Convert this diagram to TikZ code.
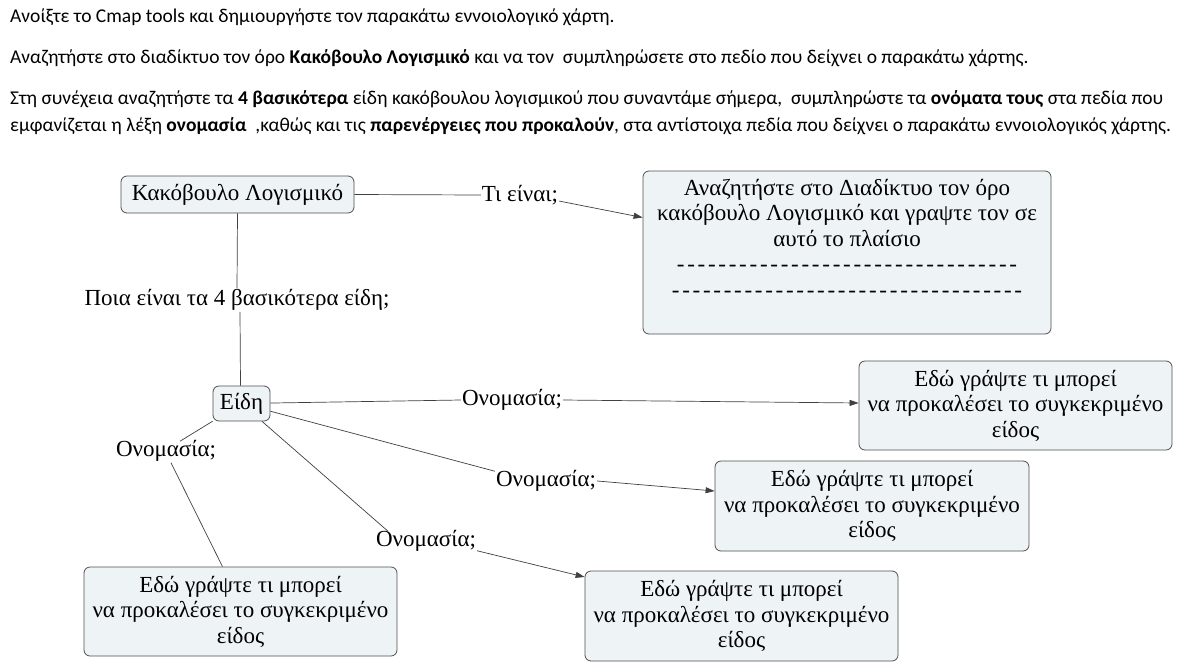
\documentclass[tikz,border=0pt]{standalone}
\usepackage{fontspec}
\setmainfont{Carlito}
\newfontfamily\mapfont{Liberation Serif}
\usetikzlibrary{arrows.meta,calc}
\definecolor{boxfill}{HTML}{EEF3F6}
\definecolor{boxline}{HTML}{505050}
\definecolor{linkc}{HTML}{404040}
\newcommand\dashline[1]{\makebox[#1pt]{\xleaders\hbox to 10.3pt{\hss-\hss}\hfill}}
\begin{document}
\begin{tikzpicture}[x=1pt,y=-1pt,
  hdr/.style={anchor=base west,inner sep=0pt,font=\fontsize{19.5}{23}\selectfont},
  mapf/.style={font=\mapfont\fontsize{23}{25.5}\selectfont},
  cbox/.style={draw=boxline,fill=boxfill,rounded corners=6pt,line width=0.8pt,
    align=center,inner sep=1pt,mapf},
  lbl/.style={inner sep=1pt,mapf},
  link/.style={draw=linkc,line width=0.7pt},
  arr/.style={link,-{Triangle[length=9pt,width=6pt]}}]
\useasboundingbox (0,0) rectangle (1189,667);
\fill[white] (0,0) rectangle (1189,667);
% header text
\node[hdr] (h1) at (10,22) {Ανοίξτε το Cmap tools και δημιουργήστε τον παρακάτω εννοιολογικό χάρτη.};
\node[hdr] (h2) at (10,63) {Αναζητήστε στο διαδίκτυο τον όρο \textbf{Κακόβουλο Λογισμικό} και να τον\ \ συμπληρώσετε στο πεδίο που δείχνει ο παρακάτω χάρτης.};
\node[hdr] (h3) at (10,104) {Στη συνέχεια αναζητήστε τα \textbf{4 βασικότερα} είδη κακόβουλου λογισμικού που συναντάμε σήμερα,\ \ συμπληρώστε τα \textbf{ονόματα τους} στα πεδία που};
\node[hdr] (h4) at (10,131) {εμφανίζεται η λέξη \textbf{ονομασία}\ \ ,καθώς και τις \textbf{παρενέργειες που προκαλούν}, στα αντίστοιχα πεδία που δείχνει ο παρακάτω εννοιολογικός χάρτης.};
% concepts
\node[cbox,minimum width=233pt,minimum height=37pt] (kak) at (237.5,194.5) {Κακόβουλο Λογισμικό};
\node[cbox,minimum width=408pt,minimum height=163pt] (big) at (847,252.5) {};
\node[anchor=north,align=center,inner sep=0pt,mapf] (bigtxt) at ([yshift=-8pt]big.north) {Αναζητήστε στο Διαδίκτυο τον όρο\\ κακόβουλο Λογισμικό και γραψτε τον σε\\ αυτό το πλαίσιο\\ \dashline{343}\\ \dashline{353}};
\node[cbox,minimum width=57pt,minimum height=35pt] (eidi) at (241.5,403.5) {Είδη};
\node[cbox,minimum width=313pt,minimum height=89pt] (b1) at (1015.5,405.5) {Εδώ γράψτε τι μπορεί\\ να προκαλέσει το συγκεκριμένο\\ είδος};
\node[cbox,minimum width=314pt,minimum height=90pt] (b2) at (872,506) {Εδώ γράψτε τι μπορεί\\ να προκαλέσει το συγκεκριμένο\\ είδος};
\node[cbox,minimum width=313pt,minimum height=90pt] (b3) at (741.5,616) {Εδώ γράψτε τι μπορεί\\ να προκαλέσει το συγκεκριμένο\\ είδος};
\node[cbox,minimum width=313pt,minimum height=89pt] (b4) at (240.5,611.5) {Εδώ γράψτε τι μπορεί\\ να προκαλέσει το συγκεκριμένο\\ είδος};
% linking phrases
\node[lbl] (l0) at (520,195) {Τι είναι;};
\node[lbl] (l1) at (237,300) {Ποια είναι τα 4 βασικότερα είδη;};
\node[lbl] (l2) at (512,400) {Ονομασία;};
\node[lbl] (l3) at (546,481) {Ονομασία;};
\node[lbl] (l4) at (426,541) {Ονομασία;};
\node[lbl] (l5) at (166,451) {Ονομασία;};
% connectors
\draw[link] (kak.east) -- (l0.west);
\draw[arr] ([yshift=5pt]l0.south east) -- ([yshift=35pt]big.west);
\draw[link] (kak.south) -- (l1.north);
\draw[link] ([xshift=3pt]l1.south) -- ([xshift=-1pt]eidi.north);
\draw[link] (eidi) -- (l2.west);
\draw[arr] (l2.east) -- ([yshift=2.5pt]b1.west);
\draw[link] (eidi) -- ([yshift=-2pt]l3.north west);
\draw[arr] (l3.east) -- ([yshift=15pt]b2.west);
\draw[link] (eidi) -- ([xshift=-38pt,yshift=-2pt]l4.north);
\draw[arr] ([yshift=2pt]l4.south east) -- ([yshift=39pt]b3.west);
\draw[link] (eidi) -- ([xshift=14pt,yshift=-2pt]l5.north);
\draw[link] ([xshift=5pt]l5.south) -- ([xshift=-18pt]b4.north);
\end{tikzpicture}
\end{document}
